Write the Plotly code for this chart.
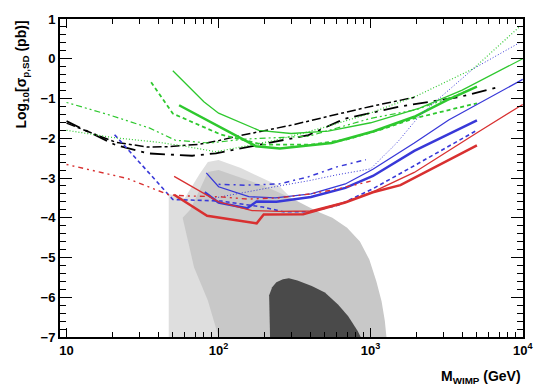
import plotly.graph_objects as go

# WIMP mass (GeV) and log10 of the spin-dependent cross-section (pb)
fringe_m = [47, 60, 75, 85, 100, 140, 250, 300, 100, 47]
fringe_y = [-3.4, -3.5, -2.9, -2.6, -2.55, -2.75, -3.2, -3.5, -7.0, -7.0]
light_m = [58, 65, 75, 85, 100, 130, 200, 300, 450, 560, 700, 850, 980, 1090, 1180, 1240, 1270, 100, 85, 69]
light_y = [-4.0, -3.8, -3.3, -2.85, -2.8, -2.95, -3.2, -3.5, -3.85, -4.0, -4.25, -4.6, -5.05, -5.6, -6.1, -6.6, -7.0, -7.0, -6.08, -5.25]
dark_m = [218, 215, 215, 225, 240, 265, 290, 330, 410, 500, 610, 710, 820, 860]
dark_y = [-7.0, -6.3, -5.95, -5.75, -5.62, -5.55, -5.52, -5.58, -5.72, -5.88, -6.18, -6.47, -6.84, -7.0]

blk_ldash_m = [10, 21, 34, 67, 96, 200, 290, 390, 674, 1570, 3850, 7000]
blk_ldash_y = [-1.57, -2.17, -2.38, -2.44, -2.38, -2.14, -2.02, -1.92, -1.51, -1.20, -0.96, -0.71]
blk_dashdot_m = [10, 21, 34, 48, 75, 100, 136, 203, 302, 525, 1000, 2000]
blk_dashdot_y = [-1.62, -2.10, -2.22, -2.21, -2.15, -2.06, -1.94, -1.80, -1.67, -1.45, -1.20, -0.96]

grn_thin_m = [50, 80, 100, 184, 300, 525, 1000, 2100, 4000, 10000]
grn_thin_y = [-0.30, -1.08, -1.37, -1.80, -1.88, -1.82, -1.61, -1.24, -0.79, 0.0]
grn_thick_m = [55, 100, 176, 253, 553, 1035, 1936, 3180, 5000]
grn_thick_y = [-1.17, -1.71, -2.20, -2.26, -2.12, -1.83, -1.46, -1.04, -0.70]
grn_dash_m = [36, 50, 104, 195, 405, 682, 1150, 1936, 3260, 5000]
grn_dash_y = [-0.59, -1.38, -1.91, -2.16, -2.16, -2.04, -1.79, -1.50, -1.29, -1.12]
grn_dashdot_m = [10, 19, 35, 52, 87, 150, 389, 1000, 2000, 3500, 5000]
grn_dashdot_y = [-1.10, -1.41, -1.74, -2.05, -2.12, -2.02, -1.95, -1.50, -1.28, -0.95, -0.70]
grn_dot_m = [10, 20, 40, 60, 96, 150, 224, 300, 500, 910, 2020, 4740, 9500]
grn_dot_y = [-1.80, -1.98, -2.10, -2.20, -2.34, -2.20, -2.07, -1.95, -1.72, -1.42, -0.93, -0.25, 0.80]

blu_dash_m = [20.7, 50, 104, 195, 267, 405, 615, 1035, 1936, 5000]
blu_dash_y = [-1.91, -3.54, -3.58, -3.73, -3.85, -3.85, -3.68, -3.27, -2.69, -1.80]
blu_thin_m = [83, 100, 158, 236, 405, 682, 1035, 1936, 3260, 10000]
blu_thin_y = [-2.87, -3.22, -3.47, -3.50, -3.40, -3.15, -2.78, -2.12, -1.54, -0.52]
blu_thick_m = [81, 100, 154, 178, 240, 405, 682, 1035, 1936, 5000]
blu_thick_y = [-3.36, -3.62, -3.76, -3.59, -3.60, -3.48, -3.25, -2.95, -2.32, -1.55]
blu_dashdot_m = [100, 150, 250, 390, 600, 930]
blu_dashdot_y = [-3.16, -3.18, -3.15, -2.97, -2.72, -2.54]
blu_dot_m = [95, 150, 250, 390, 600, 1000, 1500, 2120, 4740, 9500]
blu_dot_y = [-3.50, -3.35, -3.20, -3.07, -2.92, -2.77, -2.10, -1.41, -0.25, 0.40]

red_dashdot_m = [10, 25, 47, 60, 100, 155, 250, 400, 600, 1000]
red_dashdot_y = [-2.66, -3.01, -3.42, -3.45, -3.47, -3.53, -3.50, -3.40, -3.28, -3.08]
red_thin_m = [51, 83, 100, 166, 250, 400, 680, 1035, 1936, 5070, 10000]
red_thin_y = [-2.96, -3.42, -3.60, -3.82, -3.84, -3.83, -3.60, -3.35, -2.86, -1.85, -1.15]
red_thick_m = [51, 84, 178, 198, 360, 680, 1035, 1570, 5000]
red_thick_y = [-3.42, -3.95, -4.14, -3.92, -3.91, -3.62, -3.36, -3.18, -2.18]

x_ticks = [10, 100, 1000, 10000]
x_ticktext = ['10', '10<sup>2</sup>', '10<sup>3</sup>', '10<sup>4</sup>']

GREEN = '#2ec82e'
BLUE = '#3838d8'
RED = '#d83030'

fig = go.Figure()

# allowed regions (fringe = sparse points, light = broad scan, dark = preferred)
for m, y, c in [(fringe_m, fringe_y, '#dedede'), (light_m, light_y, '#c8c8c8'), (dark_m, dark_y, '#4a4a4a')]:
    fig.add_trace(go.Scatter(x=m, y=y, fill='toself', mode='lines',
                             line=dict(width=0), fillcolor=c, hoverinfo='skip'))

curves = [
    (blk_ldash_m, blk_ldash_y, 'black', 1.8, 'longdashdot'),
    (blk_dashdot_m, blk_dashdot_y, 'black', 1.5, 'dashdot'),
    (grn_dot_m, grn_dot_y, GREEN, 1.2, '1px,2px'),
    (grn_dashdot_m, grn_dashdot_y, GREEN, 1.2, '2px,3px,2px,3px,6px,3px'),
    (grn_dash_m, grn_dash_y, GREEN, 1.8, '4px,3px'),
    (grn_thin_m, grn_thin_y, GREEN, 1.3, 'solid'),
    (grn_thick_m, grn_thick_y, GREEN, 2.5, 'solid'),
    (blu_dot_m, blu_dot_y, BLUE, 1.0, '1px,2px'),
    (blu_dashdot_m, blu_dashdot_y, BLUE, 1.5, '2px,4px,5px,4px'),
    (blu_dash_m, blu_dash_y, BLUE, 1.6, '4px,3px'),
    (blu_thin_m, blu_thin_y, BLUE, 1.3, 'solid'),
    (blu_thick_m, blu_thick_y, BLUE, 2.5, 'solid'),
    (red_dashdot_m, red_dashdot_y, RED, 1.4, '2px,4px,2px,4px,5px,4px'),
    (red_thin_m, red_thin_y, RED, 1.3, 'solid'),
    (red_thick_m, red_thick_y, RED, 2.5, 'solid'),
]
for m, y, c, w, d in curves:
    fig.add_trace(go.Scatter(x=m, y=y, mode='lines', hoverinfo='skip',
                             line=dict(color=c, width=w, dash=d)))

axis_font = dict(family='Liberation Sans', size=13, color='black', weight='bold')
fig.update_xaxes(type='log', range=[0.957, 4.002], tickvals=x_ticks, ticktext=x_ticktext,
                 ticks='inside', ticklen=9, tickwidth=1, tickcolor='black',
                 minor=dict(ticks='inside', ticklen=5, tickcolor='black', dtick='D1', showgrid=False),
                 showline=True, linewidth=2, linecolor='black', mirror='allticks',
                 showgrid=False, zeroline=False, tickfont=axis_font)
fig.update_yaxes(range=[-7, 1], dtick=1, ticks='inside', ticklen=12, tickwidth=1, tickcolor='black',
                 minor=dict(ticks='inside', ticklen=6, tickcolor='black', dtick=0.2, showgrid=False),
                 showline=True, linewidth=2, linecolor='black', mirror='allticks',
                 showgrid=False, zeroline=False, tickfont=axis_font)

fig.add_annotation(text='<b>M<sub>WIMP</sub> (GeV)</b>', xref='paper', yref='paper',
                   x=1.0, y=-0.125, xanchor='right', yanchor='middle', showarrow=False,
                   font=dict(family='Liberation Sans', size=14, color='black'))
fig.add_annotation(text='<b>Log<sub>10</sub>[σ<sub>p,SD</sub> (pb)]</b>', xref='paper', yref='paper',
                   x=-0.083, y=1.0, xanchor='center', yanchor='top', textangle=-90, showarrow=False,
                   font=dict(family='Liberation Sans', size=14, color='black'))

fig.update_layout(width=545, height=388, margin=dict(l=60, r=17, t=12, b=51),
                  plot_bgcolor='white', paper_bgcolor='white', showlegend=False,
                  font=dict(family='Liberation Sans', size=13, color='black'))
fig.write_html('out.html', config={'displayModeBar': False},
               post_script="document.body.style.margin='0';")
